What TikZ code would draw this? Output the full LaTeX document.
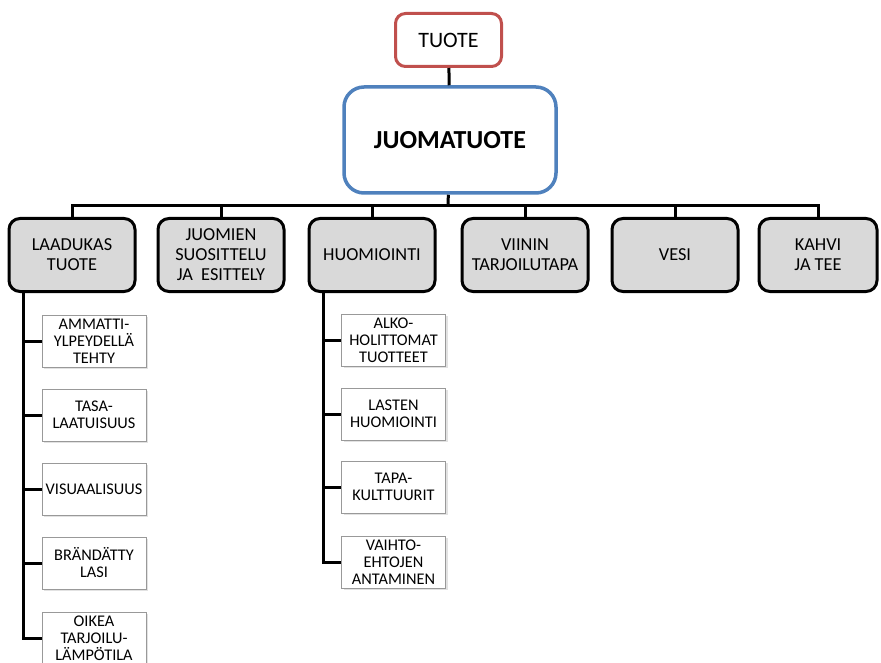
\documentclass[tikz,border=0pt]{standalone}
\usepackage{fontspec}
\setmainfont{Carlito}
\usetikzlibrary{shadows}

\definecolor{tuotered}{RGB}{192,80,77}
\definecolor{juomablue}{RGB}{79,129,189}
\definecolor{catgray}{RGB}{217,217,217}

\tikzset{
  topbox/.style={draw=tuotered, line width=3pt, rounded corners=10pt, fill=white,
    minimum width=106pt, minimum height=53pt, font=\fontsize{22}{25}\selectfont},
  mainbox/.style={draw=juomablue, line width=3.5pt, rounded corners=20pt, fill=white,
    minimum width=212pt, minimum height=106pt, font=\bfseries\fontsize{26}{29}\selectfont},
  catbox/.style={draw, line width=3pt, fill=catgray, rounded corners=11pt, inner sep=0pt,
    minimum width=126pt, minimum height=73pt, align=center, font=\fontsize{18.3}{20}\selectfont},
  itembox/.style={draw=gray!80, line width=0.8pt, fill=white, inner sep=0pt,
    minimum width=104pt, minimum height=52pt, align=center, font=\fontsize{16.3}{17}\selectfont,
    drop shadow={shadow xshift=2pt, shadow yshift=-2pt, fill=gray!45}},
  link/.style={line width=3pt}
}

\begin{document}
\begin{tikzpicture}[x=1pt, y=-1pt]
  \useasboundingbox (0,0) rectangle (881,663);

  % top
  \node[topbox] (tuote) at (448.5,40) {TUOTE};
  \node[mainbox] (juoma) at (450,140) {JUOMATUOTE};
  \draw[link] (tuote) -- (juoma);

  % categories
  \node[catbox] (laadukas) at (72,255) {LAADUKAS\\TUOTE};
  \node[catbox] (suositus) at (221,255) {JUOMIEN\\SUOSITTELU\\JA\ \ ESITTELY};
  \node[catbox] (huomio) at (372,255) {HUOMIOINTI};
  \node[catbox] (viini) at (525,255) {VIININ\\TARJOILUTAPA};
  \node[catbox] (vesi) at (675,255) {VESI};
  \node[catbox, minimum width=118pt] (kahvi) at (818,255) {KAHVI\\JA TEE};

  \coordinate (bus) at (448,206);
  \draw[link] (juoma) -- (bus);
  \foreach \c in {laadukas,suositus,huomio,viini,vesi,kahvi}
    \draw[link] (bus) -| (\c.north);

  % laadukas tuote
  \node[itembox] (ammatti) at (94,341) {AMMATTI-\\YLPEYDELLÄ\\TEHTY};
  \node[itembox] (tasa) at (94,415) {TASA-\\LAATUISUUS};
  \node[itembox] (visu) at (94,489) {VISUAALISUUS};
  \node[itembox] (brandi) at (94,563) {BRÄNDÄTTY\\LASI};
  \node[itembox] (lampo) at (94,638) {OIKEA\\TARJOILU-\\LÄMPÖTILA};

  \coordinate (lroot) at (23,291);
  \foreach \i in {ammatti,tasa,visu,brandi,lampo}
    \draw[link] (lroot) |- (\i.west);

  % huomiointi
  \node[itembox] (alko) at (393.5,340) {ALKO-\\HOLITTOMAT\\TUOTTEET};
  \node[itembox] (lapset) at (393.5,414) {LASTEN\\HUOMIOINTI};
  \node[itembox] (tapa) at (393.5,487) {TAPA-\\KULTTUURIT};
  \node[itembox] (vaihto) at (393.5,562) {VAIHTO-\\EHTOJEN\\ANTAMINEN};

  \coordinate (hroot) at (323,291);
  \foreach \i in {alko,lapset,tapa,vaihto}
    \draw[link] (hroot) |- (\i.west);
\end{tikzpicture}
\end{document}
